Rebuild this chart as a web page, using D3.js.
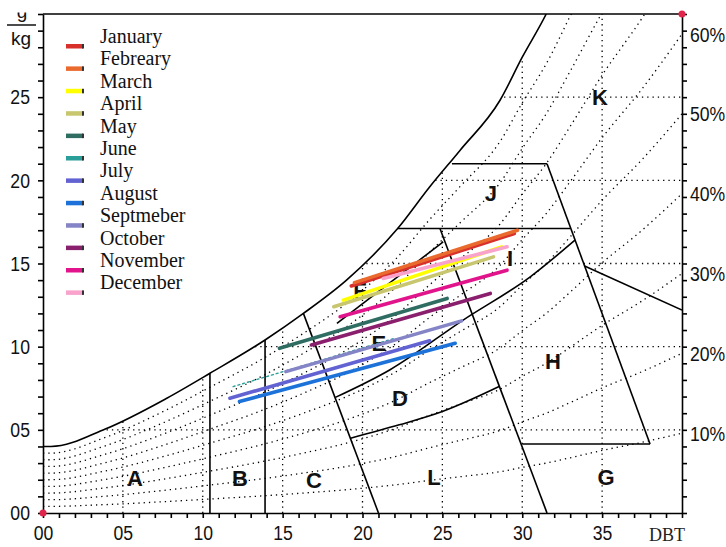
<!DOCTYPE html>
<html>
<head>
<meta charset="utf-8">
<script src="https://cdn.jsdelivr.net/npm/d3@7/dist/d3.min.js"></script>
<style>
  body { margin: 0; background: #fff; }
  svg { display: block; }
</style>
</head>
<body>
<svg id="chart" width="726" height="547"></svg>
<script>
// monthly lines: start / end of each month (dry bulb °C, humidity ratio g/kg)
var months = ["January", "Febreary", "March", "April", "May", "June", "July",
  "August", "Septmeber", "October", "November", "December"];
var monthColors = ["#d8312c", "#ea6a2e", "#ffff00", "#c8c66e", "#2f6c62", "#2a9e98",
  "#6262d2", "#1c72d8", "#8484c6", "#8a1f6e", "#e2148c", "#f8a2cc"];
var tStart = [19.3, 19.5, 18.8, 18.2, 14.8, 11.9, 11.7, 12.3, 15.2, 16.8, 18.6, 21.3];
var wStart = [13.65, 13.85, 12.8, 12.4, 9.9, 7.6, 6.9, 6.7, 8.5, 10.1, 11.8, 14.1];
var tEnd = [29.5, 29.7, 28.7, 28.2, 25.3, 22.0, 24.2, 25.8, 26.2, 28.0, 29.05, 29.05];
var wEnd = [16.8, 17.0, 16.0, 15.4, 12.9, 10.5, 10.35, 10.2, 11.55, 13.2, 14.6, 16.0];
// line drawing order (bottom first)
var drawOrder = [0, 1, 3, 2, 11, 10, 9, 4, 5, 8, 6, 7];

// saturation curve
var satT = [0, 0.5, 3.9, 7.75, 10.45, 13.9, 16.3, 19.0, 22.2, 24.2, 26.1, 28.6, 30.0, 31.5, 33, 35, 37.5, 40];
var satW = [4.0, 4.0, 5.05, 6.9, 8.4, 10.4, 12.0, 14.0, 17.1, 19.6, 21.8, 24.8, 27.4, 30.0, 33.2, 37.6, 42.5, 48.0];

var rhLevels = [10, 20, 30, 40, 50, 60, 70, 80, 90];
var rhLabels = [10, 20, 30, 40, 50, 60];
var gridT = [5, 10, 15, 20, 25, 30, 35];
var gridW = [5, 10, 15, 20, 25];

// zone boundaries (°C, g/kg)
var zoneLines = [
  [[10.45, 0], [10.45, 8.4]],
  [[13.9, 0], [13.9, 10.4]],
  [[16.3, 12.0], [21.0, 0]],
  [[18.3, 6.95], [21.7, 8.6], [26.3, 11.6], [30.5, 14.2], [33.3, 16.4]],
  [[19.25, 4.5], [22.3, 5.3], [25, 6.1], [28.55, 7.6]],
  [[24.85, 17.1], [31.55, 0]],
  [[25.6, 21.0], [31.55, 21.0]],
  [[22.2, 17.1], [33.0, 17.1]],
  [[31.55, 21.0], [38.0, 4.15]],
  [[30.0, 4.15], [38.0, 4.15]],
  [[33.9, 14.85], [40, 12.2]],
  [[18.4, 11.4], [25.05, 16.3]]
];
var zoneNames = ["A", "B", "C", "L", "G", "D", "H", "E", "F", "I", "J", "K"];
var zoneT = [5.76, 12.33, 16.96, 24.48, 35.24, 22.35, 31.92, 21.03, 19.84, 29.23, 28.04, 34.87];
var zoneW = [2.1, 2.1, 2.0, 2.16, 2.16, 6.9, 9.14, 10.2, 13.4, 15.33, 19.24, 25.0];

var svg = d3.select("#chart");
var x = d3.scaleLinear().domain([0, 40]).range([43, 682]);
var y = d3.scaleLinear().domain([0, 30]).range([513, 14]);

var satPts = satT.map(function(t, i) { return [t, satW[i]]; });
var line = d3.line()
  .x(function(d) { return x(d[0]); })
  .y(function(d) { return y(d[1]); });
var curve = d3.line()
  .x(function(d) { return x(d[0]); })
  .y(function(d) { return y(d[1]); })
  .curve(d3.curveMonotoneX);
var satArea = d3.area()
  .x(function(d) { return x(d[0]); })
  .y0(y(0))
  .y1(function(d) { return y(d[1]); })
  .curve(d3.curveMonotoneX);

var defs = svg.append("defs");
defs.append("clipPath").attr("id", "plotClip")
  .append("rect")
  .attr("x", x(0)).attr("y", y(30))
  .attr("width", x(40) - x(0)).attr("height", y(0) - y(30));
defs.append("clipPath").attr("id", "satClip")
  .append("path").attr("d", satArea(satPts));
defs.append("clipPath").attr("id", "gClip")
  .append("rect").attr("x", 0).attr("y", 12.5).attr("width", 40).attr("height", 20);

// dotted grid under the saturation curve
var grid = svg.append("g").attr("clip-path", "url(#plotClip)")
  .append("g").attr("clip-path", "url(#satClip)")
  .attr("fill", "none").attr("stroke", "#000")
  .attr("stroke-width", 1.3).attr("stroke-dasharray", "1.3,4");

grid.selectAll(".vgrid").data(gridT).enter().append("line")
  .attr("x1", function(d) { return x(d); }).attr("x2", function(d) { return x(d); })
  .attr("y1", y(0)).attr("y2", y(30));
grid.selectAll(".hgrid").data(gridW).enter().append("line")
  .attr("x1", x(0)).attr("x2", x(40))
  .attr("y1", function(d) { return y(d); }).attr("y2", function(d) { return y(d); });
grid.selectAll(".rh").data(rhLevels).enter().append("path")
  .attr("d", function(rh) {
    return curve(satPts.map(function(p) { return [p[0], p[1] * rh / 100]; }));
  });

// saturation curve and zones
var plot = svg.append("g").attr("clip-path", "url(#plotClip)");
plot.append("path").attr("d", curve(satPts))
  .attr("fill", "none").attr("stroke", "#000").attr("stroke-width", 1.6);
plot.selectAll(".zone").data(zoneLines).enter().append("path")
  .attr("d", function(d) { return d.length > 2 ? curve(d) : line(d); })
  .attr("fill", "none").attr("stroke", "#000").attr("stroke-width", 1.6);

// zone letters
svg.selectAll(".zlabel").data(zoneNames).enter().append("text")
  .attr("x", function(d, i) { return x(zoneT[i]); })
  .attr("y", function(d, i) { return y(zoneW[i]); })
  .attr("dy", "0.36em")
  .attr("text-anchor", "middle")
  .style("font-family", "'Liberation Sans', Arial, sans-serif")
  .style("font-weight", "bold").style("font-size", "22px").style("fill", "#111")
  .text(function(d) { return d; });

// monthly lines
var mLines = svg.append("g");
drawOrder.forEach(function(i) {
  mLines.append("line")
    .attr("x1", x(tStart[i])).attr("y1", y(wStart[i]))
    .attr("x2", x(tEnd[i])).attr("y2", y(wEnd[i]))
    .attr("stroke", monthColors[i])
    .attr("stroke-width", i === 5 ? 1.4 : 3.6)
    .attr("stroke-dasharray", i === 5 ? "2,3" : null)
    .attr("stroke-linecap", "round");
});

// axes
var numFont = "'Liberation Sans', Arial, sans-serif";
var fmt = d3.format("02d");

var xAxis = svg.append("g").attr("transform", "translate(0," + y(0) + ")")
  .call(d3.axisBottom(x).tickValues(d3.range(0, 41)).tickSize(5).tickSizeOuter(0)
    .tickFormat(function(d) { return d % 5 === 0 && d < 40 ? fmt(d) : ""; }));
xAxis.selectAll("text").attr("y", 12).attr("transform", "scale(0.84,1)");

var yAxis = svg.append("g").attr("transform", "translate(" + x(0) + ",0)")
  .call(d3.axisLeft(y).tickValues(d3.range(0, 31)).tickSize(5).tickSizeOuter(0)
    .tickFormat(function(d) { return d % 5 === 0 && d < 30 ? fmt(d) : ""; }));
yAxis.selectAll("text").attr("x", -15.5).attr("transform", "scale(0.84,1)");

var rAxis = svg.append("g").attr("transform", "translate(" + x(40) + ",0)")
  .call(d3.axisRight(y).tickValues(d3.range(0, 31)).tickSize(5).tickSizeOuter(0)
    .tickFormat(""));

[xAxis, yAxis, rAxis].forEach(function(a) {
  a.selectAll("path, line").attr("stroke", "#000").attr("stroke-width", 1.6);
  a.selectAll("text").style("font-family", numFont).style("font-size", "21px")
    .attr("fill", "#111");
});

svg.append("line")
  .attr("x1", x(0)).attr("x2", x(40)).attr("y1", y(30)).attr("y2", y(30))
  .attr("stroke", "#000").attr("stroke-width", 1.6);

// RH labels on the right edge
var wsat40 = satW[satW.length - 1];
svg.selectAll(".rhlab").data(rhLabels).enter().append("text")
  .attr("transform", function(d) {
    return "translate(690," + y(wsat40 * d / 100) + ") scale(0.84,1)";
  })
  .attr("dy", "0.36em")
  .style("font-family", numFont).style("font-size", "21px").style("fill", "#111")
  .text(function(d) { return d + "%"; });

svg.append("text").attr("x", 667).attr("y", 541).attr("text-anchor", "middle")
  .style("font-family", "'Liberation Serif', 'Times New Roman', serif")
  .style("font-size", "18px").style("fill", "#222")
  .text("DBT");

// units label
svg.append("text").attr("x", 22).attr("y", 18).attr("text-anchor", "middle")
  .attr("clip-path", "url(#gClip)")
  .style("font-family", numFont).style("font-size", "19px").style("fill", "#111")
  .text("g");
svg.append("line").attr("x1", 7).attr("x2", 36).attr("y1", 25).attr("y2", 25)
  .attr("stroke", "#111").attr("stroke-width", 1.5);
svg.append("text").attr("x", 21).attr("y", 45).attr("text-anchor", "middle")
  .style("font-family", numFont).style("font-size", "19px").style("fill", "#111")
  .text("kg");

// corner markers
[[0, 0], [40, 30]].forEach(function(p) {
  svg.append("circle").attr("cx", x(p[0])).attr("cy", y(p[1])).attr("r", 3.5)
    .attr("fill", "#e0244a");
});

// legend
var legend = svg.append("g");
months.forEach(function(m, i) {
  var ly = 46 + i * 22.4;
  legend.append("rect").attr("x", 66).attr("y", ly - 2).attr("width", 17).attr("height", 4.5)
    .attr("fill", monthColors[i]);
  legend.append("rect").attr("x", 82).attr("y", ly - 2).attr("width", 2).attr("height", 4.5)
    .attr("fill", "#333");
  legend.append("text").attr("x", 100).attr("y", ly - 3)
    .style("font-family", "'Liberation Serif', 'Times New Roman', serif")
    .style("font-size", "20px").style("fill", "#111")
    .text(m);
});
</script>
</body>
</html>
